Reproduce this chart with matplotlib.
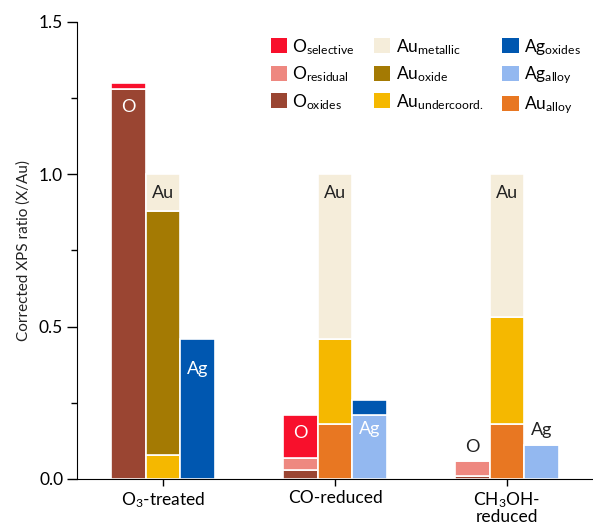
import matplotlib.pyplot as plt
from matplotlib.patches import Patch
import numpy as np

plt.rcParams['font.family'] = ['Lato', 'DejaVu Sans']
plt.rcParams['mathtext.fontset'] = 'custom'
plt.rcParams['mathtext.rm'] = 'Lato'
plt.rcParams['mathtext.it'] = 'Lato'

# data
groups = ['O$_3$-treated', 'CO-reduced', 'CH$_3$OH-\nreduced']
o_oxides = [1.28, 0.03, 0.01]
o_residual = [0.0, 0.04, 0.05]
o_selective = [0.02, 0.14, 0.0]
au_alloy = [0.0, 0.18, 0.18]
au_undercoord = [0.08, 0.28, 0.35]
au_oxide = [0.80, 0.0, 0.0]
au_metallic = [0.12, 0.54, 0.47]
ag_alloy = [0.0, 0.21, 0.11]
ag_oxides = [0.46, 0.05, 0.0]

colors = {
    'o_selective': '#f8102c',
    'o_residual': '#ee8880',
    'o_oxides': '#9a4532',
    'au_metallic': '#f5edda',
    'au_oxide': '#a47a03',
    'au_undercoord': '#f5b800',
    'ag_oxides': '#0057b0',
    'ag_alloy': '#93b8f0',
    'au_alloy': '#e87722',
}

fig = plt.figure(figsize=(5.93, 5.26), dpi=100)
ax = fig.add_axes([0.13, 0.0894, 0.87, 0.869])

x = np.arange(len(groups))
w = 0.2


def stack(xpos, series):
    bottom = np.zeros(len(xpos))
    for vals, key in series:
        vals = np.array(vals)
        ax.bar(xpos, vals, w, bottom=bottom, color=colors[key],
               edgecolor='white', linewidth=1.2)
        bottom = bottom + vals
    return bottom


o_top = stack(x - w, [(o_oxides, 'o_oxides'), (o_residual, 'o_residual'),
                      (o_selective, 'o_selective')])
au_top = stack(x, [(au_alloy, 'au_alloy'), (au_undercoord, 'au_undercoord'),
                   (au_oxide, 'au_oxide'), (au_metallic, 'au_metallic')])
ag_top = stack(x + w, [(ag_alloy, 'ag_alloy'), (ag_oxides, 'ag_oxides')])

fs = 13
# labels on the bars
ax.text(x[0] - w, o_top[0] - 0.08, 'O', color='white', ha='center', va='center', fontsize=fs)
ax.text(x[0], au_top[0] - 0.06, 'Au', color='#222222', ha='center', va='center', fontsize=fs)
ax.text(x[0] + w, ag_top[0] - 0.1, 'Ag', color='white', ha='center', va='center', fontsize=fs)

ax.text(x[1], au_top[1] - 0.06, 'Au', color='#222222', ha='center', va='center', fontsize=fs)
ax.text(x[1] - w, 0.15, 'O', color='white', ha='center', va='center', fontsize=fs)
ax.text(x[1] + w, 0.165, 'Ag', color='white', ha='center', va='center', fontsize=fs)

ax.text(x[2], au_top[2] - 0.06, 'Au', color='#222222', ha='center', va='center', fontsize=fs)
ax.text(x[2] - w, o_top[2] + 0.045, 'O', color='#222222', ha='center', va='center', fontsize=fs)
ax.text(x[2] + w, ag_top[2] + 0.05, 'Ag', color='#222222', ha='center', va='center', fontsize=fs)

ax.set_xlim(-0.5, 2.5)
ax.set_ylim(0, 1.5)
ax.set_xticks(x)
ax.set_xticklabels(groups, fontsize=12.5, linespacing=0.95)
ax.set_yticks([0, 0.5, 1.0, 1.5])
ax.set_yticklabels(['0.0', '0.5', '1.0', '1.5'], fontsize=12.5)
ax.set_yticks([0.25, 0.75, 1.25], minor=True)
ax.tick_params(axis='y', which='major', length=7, width=1, direction='out', pad=3)
ax.tick_params(axis='y', which='minor', length=4, width=1, direction='out')
ax.tick_params(axis='x', length=5, width=1, direction='out', pad=3)
ax.set_ylabel('Corrected XPS ratio (X/Au)', fontsize=11, color='#222222', labelpad=6)
for s in ['top', 'right']:
    ax.spines[s].set_visible(False)

labels = [
    ('o_selective', 'O$_\\mathregular{selective}$'),
    ('o_residual', 'O$_\\mathregular{residual}$'),
    ('o_oxides', 'O$_\\mathregular{oxides}$'),
    ('au_metallic', 'Au$_\\mathregular{metallic}$'),
    ('au_oxide', 'Au$_\\mathregular{oxide}$'),
    ('au_undercoord', 'Au$_\\mathregular{undercoord.}$'),
    ('ag_oxides', 'Ag$_\\mathregular{oxides}$'),
    ('ag_alloy', 'Ag$_\\mathregular{alloy}$'),
    ('au_alloy', 'Au$_\\mathregular{alloy}$'),
]
handles = [Patch(facecolor=colors[k], edgecolor='none') for k, _ in labels]
ax.legend(handles, [l for _, l in labels], ncol=3, frameon=False, fontsize=12.5,
          loc='upper left', bbox_to_anchor=(0.355, 0.99), handlelength=0.95,
          handleheight=0.95, handletextpad=0.3, columnspacing=1.1, labelspacing=0.45,
          borderaxespad=0.2)

fig.savefig('out.png', dpi=100)
